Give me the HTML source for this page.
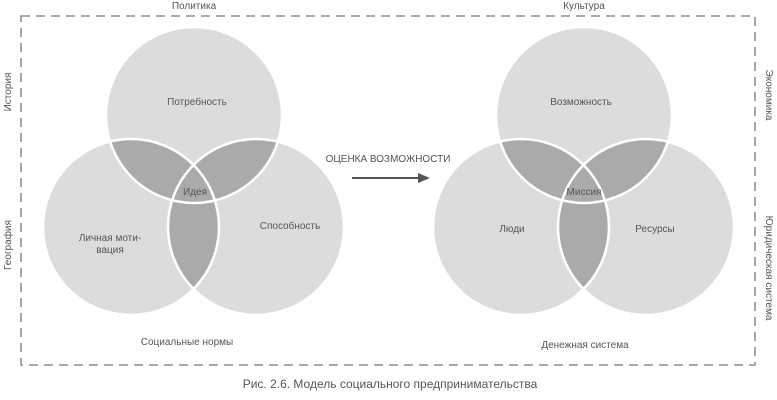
<!DOCTYPE html>
<html><head><meta charset="utf-8"><style>
html,body{margin:0;padding:0;background:#fff;}
svg{display:block;}
text{font-family:"Liberation Sans","DejaVu Sans",sans-serif;fill:#555;}
</style></head><body>
<svg width="777" height="400" viewBox="0 0 777 400" xmlns="http://www.w3.org/2000/svg">
<defs>
<clipPath id="a1"><circle cx="194" cy="115" r="88"/></clipPath>
<clipPath id="a2"><circle cx="131" cy="227" r="88"/></clipPath>
<clipPath id="b1"><circle cx="584" cy="115" r="88"/></clipPath>
<clipPath id="b2"><circle cx="521" cy="227" r="88"/></clipPath>
</defs>
<rect x="21" y="16" width="734" height="349" fill="none" stroke="#777" stroke-width="1.3" stroke-dasharray="9,6"/>
<text x="194" y="9" font-size="10" text-anchor="middle">Политика</text>
<text x="584" y="9" font-size="10" text-anchor="middle">Культура</text>
<text transform="translate(11,92) rotate(-90)" font-size="10" text-anchor="middle">История</text>
<text transform="translate(11,245) rotate(-90)" font-size="10" text-anchor="middle">География</text>
<text transform="translate(766,95) rotate(90)" font-size="10" text-anchor="middle">Экономика</text>
<text transform="translate(766,268) rotate(90)" font-size="10" text-anchor="middle">Юридическая система</text>

<g>
<circle cx="194" cy="115" r="88" fill="#dcdcdc"/>
<circle cx="131" cy="227" r="88" fill="#dcdcdc"/>
<circle cx="256" cy="227" r="88" fill="#dcdcdc"/>
<circle cx="131" cy="227" r="88" fill="#aaa" clip-path="url(#a1)"/>
<circle cx="256" cy="227" r="88" fill="#aaa" clip-path="url(#a1)"/>
<circle cx="256" cy="227" r="88" fill="#aaa" clip-path="url(#a2)"/>
<g fill="none" stroke="#fff" stroke-width="2.5">
<circle cx="194" cy="115" r="88"/><circle cx="131" cy="227" r="88"/><circle cx="256" cy="227" r="88"/>
</g>
</g>
<g>
<circle cx="584" cy="115" r="88" fill="#dcdcdc"/>
<circle cx="521" cy="227" r="88" fill="#dcdcdc"/>
<circle cx="646" cy="227" r="88" fill="#dcdcdc"/>
<circle cx="521" cy="227" r="88" fill="#aaa" clip-path="url(#b1)"/>
<circle cx="646" cy="227" r="88" fill="#aaa" clip-path="url(#b1)"/>
<circle cx="646" cy="227" r="88" fill="#aaa" clip-path="url(#b2)"/>
<g fill="none" stroke="#fff" stroke-width="2.5">
<circle cx="584" cy="115" r="88"/><circle cx="521" cy="227" r="88"/><circle cx="646" cy="227" r="88"/>
</g>
</g>

<g font-size="10" text-anchor="middle">
<text x="197" y="105">Потребность</text>
<text x="195" y="195">Идея</text>
<text x="290" y="229">Способность</text>
<text x="110" y="241">Личная моти-</text>
<text x="110" y="253">вация</text>
<text x="187" y="345">Социальные нормы</text>
<text x="581" y="105">Возможность</text>
<text x="584" y="195">Миссия</text>
<text x="512" y="232">Люди</text>
<text x="655" y="232">Ресурсы</text>
<text x="585" y="348">Денежная система</text>
<text x="388" y="162">ОЦЕНКА ВОЗМОЖНОСТИ</text>
</g>
<line x1="352" y1="178" x2="420" y2="178" stroke="#555" stroke-width="2"/>
<polygon points="418,173 430,178 418,183" fill="#555"/>
<text x="390" y="388" font-size="12" text-anchor="middle">Рис. 2.6. Модель социального предпринимательства</text>
</svg>
</body></html>
